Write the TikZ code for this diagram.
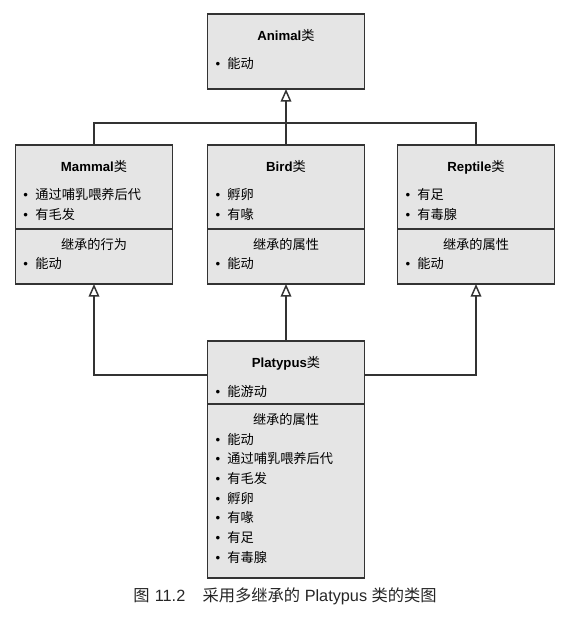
\documentclass[tikz,border=0pt]{standalone}
\usepackage{fontspec}
\setmainfont{Liberation Sans}
\newfontfamily\cjk{Noto Sans CJK SC}
\usetikzlibrary{arrows.meta,positioning}

\newcommand{\ttl}[1]{\hfill\textbf{#1}{\cjk 类}\hfill\mbox{}}
\newcommand{\hdr}[1]{\hfill{\cjk #1}\hfill\mbox{}}
\newcommand{\itm}[1]{\textbullet\hspace{5.5pt}{\cjk #1}}

\tikzset{
    cls/.style={draw=black!80, fill=black!10, line width=1.1pt, outer sep=0pt,
        text width=105.75pt, inner xsep=6pt, inner ysep=0pt, align=left,
        font=\fontsize{9.9}{14.8}\selectfont},
    inh/.style={draw=black!80, line width=1.1pt,
        -{Triangle[open,length=9.5pt,width=8pt]}},
    link/.style={draw=black!80, line width=1.1pt},
}

\begin{document}
\begin{tikzpicture}[x=0.75pt,y=-0.75pt]
        \useasboundingbox (0,0) rectangle (573,620);

        \node[cls, minimum height=56.25pt] (animal) at (286,51.5) {
            \ttl{Animal}\\[6.5pt]
            \itm{能动}\rule[-4pt]{0pt}{0pt}
        };

        \node[cls, minimum height=63pt] (mammal) at (94,187) {
            \rule{0pt}{14pt}\ttl{Mammal}\\[6.2pt]
            \itm{通过哺乳喂养后代}\\
            \itm{有毛发}
        };
        \node[cls, minimum height=41.25pt, below=0pt of mammal] (mammalinh) {
            \hdr{继承的行为}\\
            \itm{能动}\rule[-4.8pt]{0pt}{0pt}
        };

        \node[cls, minimum height=63pt] (bird) at (286,187) {
            \rule{0pt}{14pt}\ttl{Bird}\\[6.2pt]
            \itm{孵卵}\\
            \itm{有喙}
        };
        \node[cls, minimum height=41.25pt, below=0pt of bird] (birdinh) {
            \hdr{继承的属性}\\
            \itm{能动}\rule[-4.8pt]{0pt}{0pt}
        };

        \node[cls, minimum height=63pt] (reptile) at (476,187) {
            \rule{0pt}{14pt}\ttl{Reptile}\\[6.2pt]
            \itm{有足}\\
            \itm{有毒腺}
        };
        \node[cls, minimum height=41.25pt, below=0pt of reptile] (reptileinh) {
            \hdr{继承的属性}\\
            \itm{能动}\rule[-4.8pt]{0pt}{0pt}
        };

        \node[cls, minimum height=47.25pt] (platypus) at (286,372.5) {
            \rule{0pt}{15.5pt}\ttl{Platypus}\\[7pt]
            \itm{能游动}
        };
        \node[cls, minimum height=130.5pt, below=0pt of platypus] (platypusinh) {
            \hdr{继承的属性}\\
            \itm{能动}\\
            \itm{通过哺乳喂养后代}\\
            \itm{有毛发}\\
            \itm{孵卵}\\
            \itm{有喙}\\
            \itm{有足}\\
            \itm{有毒腺}\rule[-4.8pt]{0pt}{0pt}
        };

        \node[font=\fontsize{12.2}{14}\selectfont, text=black!85] (caption) at (285,596)
            {{\cjk 图}\hspace{4pt}11.2\hspace{13pt}{\cjk 采用多继承的} Platypus {\cjk 类的类图}};

        \coordinate (bus) at (286,123);

        \draw[inh] (bird) -- (animal);
        \draw[link] (mammal.north) |- (bus) -| (reptile.north);

        \draw[inh] ([yshift=-2pt]platypus.west) -| (mammalinh.south);
        \draw[inh] (platypus) -- (birdinh);
        \draw[inh] ([yshift=-2pt]platypus.east) -| (reptileinh.south);
\end{tikzpicture}
\end{document}
